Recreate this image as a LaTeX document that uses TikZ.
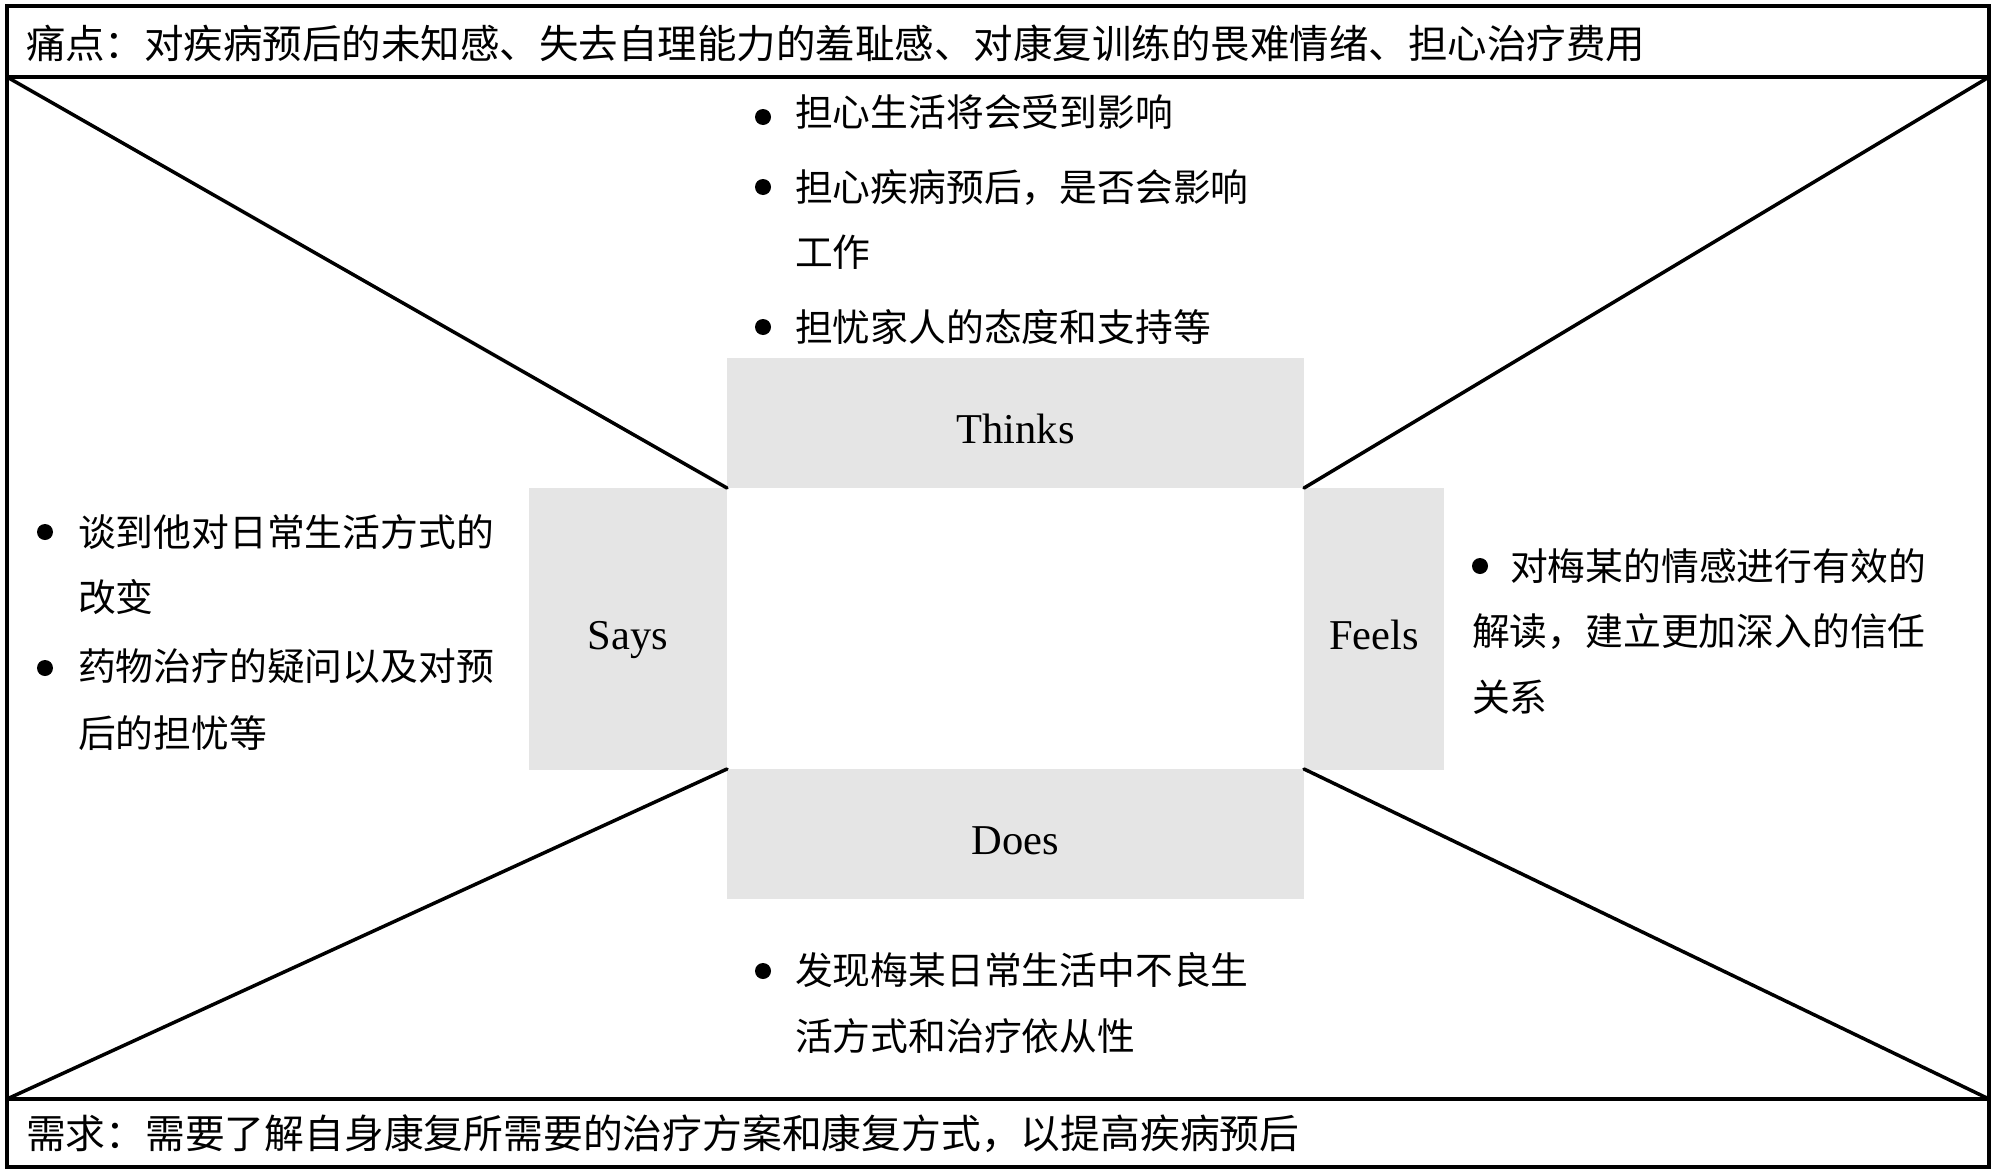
\documentclass[tikz,border=0pt]{standalone}
\usepackage{fontspec}
\setmainfont{Liberation Serif}
\newfontfamily\cjk{Noto Sans CJK SC}
\definecolor{boxgray}{RGB}{229,229,229}
\begin{document}
\begin{tikzpicture}[x=1pt,y=-1pt,
  panel/.style={fill=boxgray, draw=none, inner sep=0pt, outer sep=0pt, text height=40pt, text depth=0pt, font=\fontsize{42.5}{50}\selectfont},
  txt/.style={anchor=base west, inner sep=0pt, outer sep=0pt, font=\cjk\fontsize{37.8}{45}\selectfont},
  bar/.style={anchor=base west, inner sep=0pt, outer sep=0pt, font=\cjk\fontsize{39.5}{45}\selectfont},
  dot/.style={circle, fill=black, draw=none, inner sep=0pt, minimum size=16pt},
  frame/.style={line width=4pt},
  diag/.style={line width=3.5pt, line cap=round}]
\useasboundingbox (0,0) rectangle (2000,1175);
\fill[white] (0,0) rectangle (2000,1175);

% centre panels
\node[panel, minimum width=577pt, minimum height=130pt] (thinks) at (1015.5,423) {Thinks};
\node[panel, minimum width=577pt, minimum height=130pt] (does) at (1015.5,834) {Does};
\node[panel, minimum width=198pt, minimum height=282pt] (says) at (628,629) {Says};
\node[panel, minimum width=140pt, minimum height=282pt] (feels) at (1374,629) {Feels};

% frame
\coordinate (ftl) at (7,77);
\coordinate (ftr) at (1989,77);
\coordinate (fbl) at (7,1099);
\coordinate (fbr) at (1989,1099);
\draw[frame] (7,6) rectangle (1989,1167);
\draw[frame] (ftl) -- (ftr);
\draw[frame] (fbl) -- (fbr);

% diagonals
\draw[diag] (ftl) -- (thinks.south west);
\draw[diag] (ftr) -- (thinks.south east);
\draw[diag] (fbl) -- (does.north west);
\draw[diag] (fbr) -- (does.north east);

% header / footer
\node[bar] (pain) at (26,58) {痛点：对疾病预后的未知感、失去自理能力的羞耻感、对康复训练的畏难情绪、担心治疗费用};
\node[bar, font=\cjk\fontsize{39.8}{45}\selectfont] (need) at (26,1148) {需求：需要了解自身康复所需要的治疗方案和康复方式，以提高疾病预后};

% Thinks items
\node[dot] (tb1) at (763,117) {};
\node[txt] (t1) at (795,126) {担心生活将会受到影响};
\node[dot] (tb2) at (763,187) {};
\node[txt] (t2a) at (795,201) {担心疾病预后，是否会影响};
\node[txt] (t2b) at (795,266) {工作};
\node[dot] (tb3) at (763,327) {};
\node[txt] (t3) at (795,341) {担忧家人的态度和支持等};

% Says items
\node[dot] (sb1) at (45,532) {};
\node[txt] (s1a) at (78,546) {谈到他对日常生活方式的};
\node[txt] (s1b) at (78,611) {改变};
\node[dot] (sb2) at (45,668) {};
\node[txt] (s2a) at (78,680) {药物治疗的疑问以及对预};
\node[txt] (s2b) at (78,747) {后的担忧等};

% Feels item
\node[dot] (fb1) at (1480,566) {};
\node[txt] (f1a) at (1510,580) {对梅某的情感进行有效的};
\node[txt] (f1b) at (1472,645) {解读，建立更加深入的信任};
\node[txt] (f1c) at (1472,711) {关系};

% Does item
\node[dot] (db1) at (763,971) {};
\node[txt] (d1a) at (795,984) {发现梅某日常生活中不良生};
\node[txt] (d1b) at (795,1050) {活方式和治疗依从性};
\end{tikzpicture}
\end{document}
